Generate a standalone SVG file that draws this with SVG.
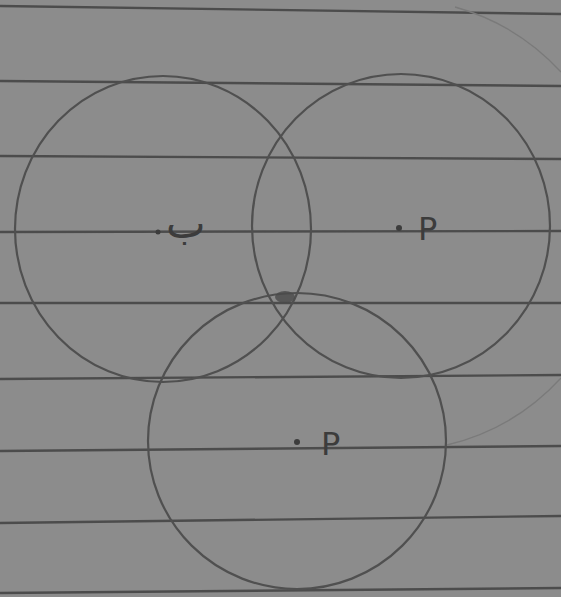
<svg xmlns="http://www.w3.org/2000/svg" width="561" height="597" viewBox="0 0 561 597">
<style>
.rule{stroke:#4c4c4c;stroke-width:2.4;fill:none}
.circle{stroke:#505050;stroke-width:2.2;fill:none}
.faint{stroke:#7a7a7a;stroke-width:1.3;fill:none}
.lbl{font-family:"DejaVu Sans",sans-serif;fill:#3c3c3c;font-size:32px}
.dot{fill:#3c3c3c}
</style>
<rect width="561" height="597" fill="#8c8c8c"/>
<g id="paper-lines">
<path class="rule" d="M0 6 L561 14"/>
<path class="rule" d="M0 81 L561 86"/>
<path class="rule" d="M0 156 L561 159"/>
<path class="rule" d="M0 232 L561 231"/>
<path class="rule" d="M0 303 L561 303"/>
<path class="rule" d="M0 379 L561 375"/>
<path class="rule" d="M0 451 L561 446"/>
<path class="rule" d="M0 523 L561 516"/>
<path class="rule" d="M0 593 L561 588"/>
</g>
<g id="faint-circle">
<path class="faint" d="M455 7 A226 226 0 0 1 561 72"/>
<path class="faint" d="M561 378 A226 226 0 0 1 447 445"/>
</g>
<g id="circle-left">
<ellipse class="circle" cx="163" cy="229" rx="148" ry="153"/>
<circle class="dot" cx="158" cy="232" r="2.5"/>
<text class="lbl" x="166" y="238" style="font-size:42px">ب</text>
</g>
<g id="circle-right">
<ellipse class="circle" cx="401" cy="226" rx="149" ry="152"/>
<circle class="dot" cx="399" cy="228" r="3"/>
<text class="lbl" x="418" y="240">P</text>
</g>
<g id="circle-bottom">
<ellipse class="circle" cx="297" cy="441" rx="149" ry="148"/>
<circle class="dot" cx="297" cy="442" r="3"/>
<text class="lbl" x="321" y="455">P</text>
</g>
<g id="connectors">
<ellipse cx="285" cy="297" rx="10" ry="6" fill="#4a4a4a" opacity="0.8"/>
</g>
</svg>
